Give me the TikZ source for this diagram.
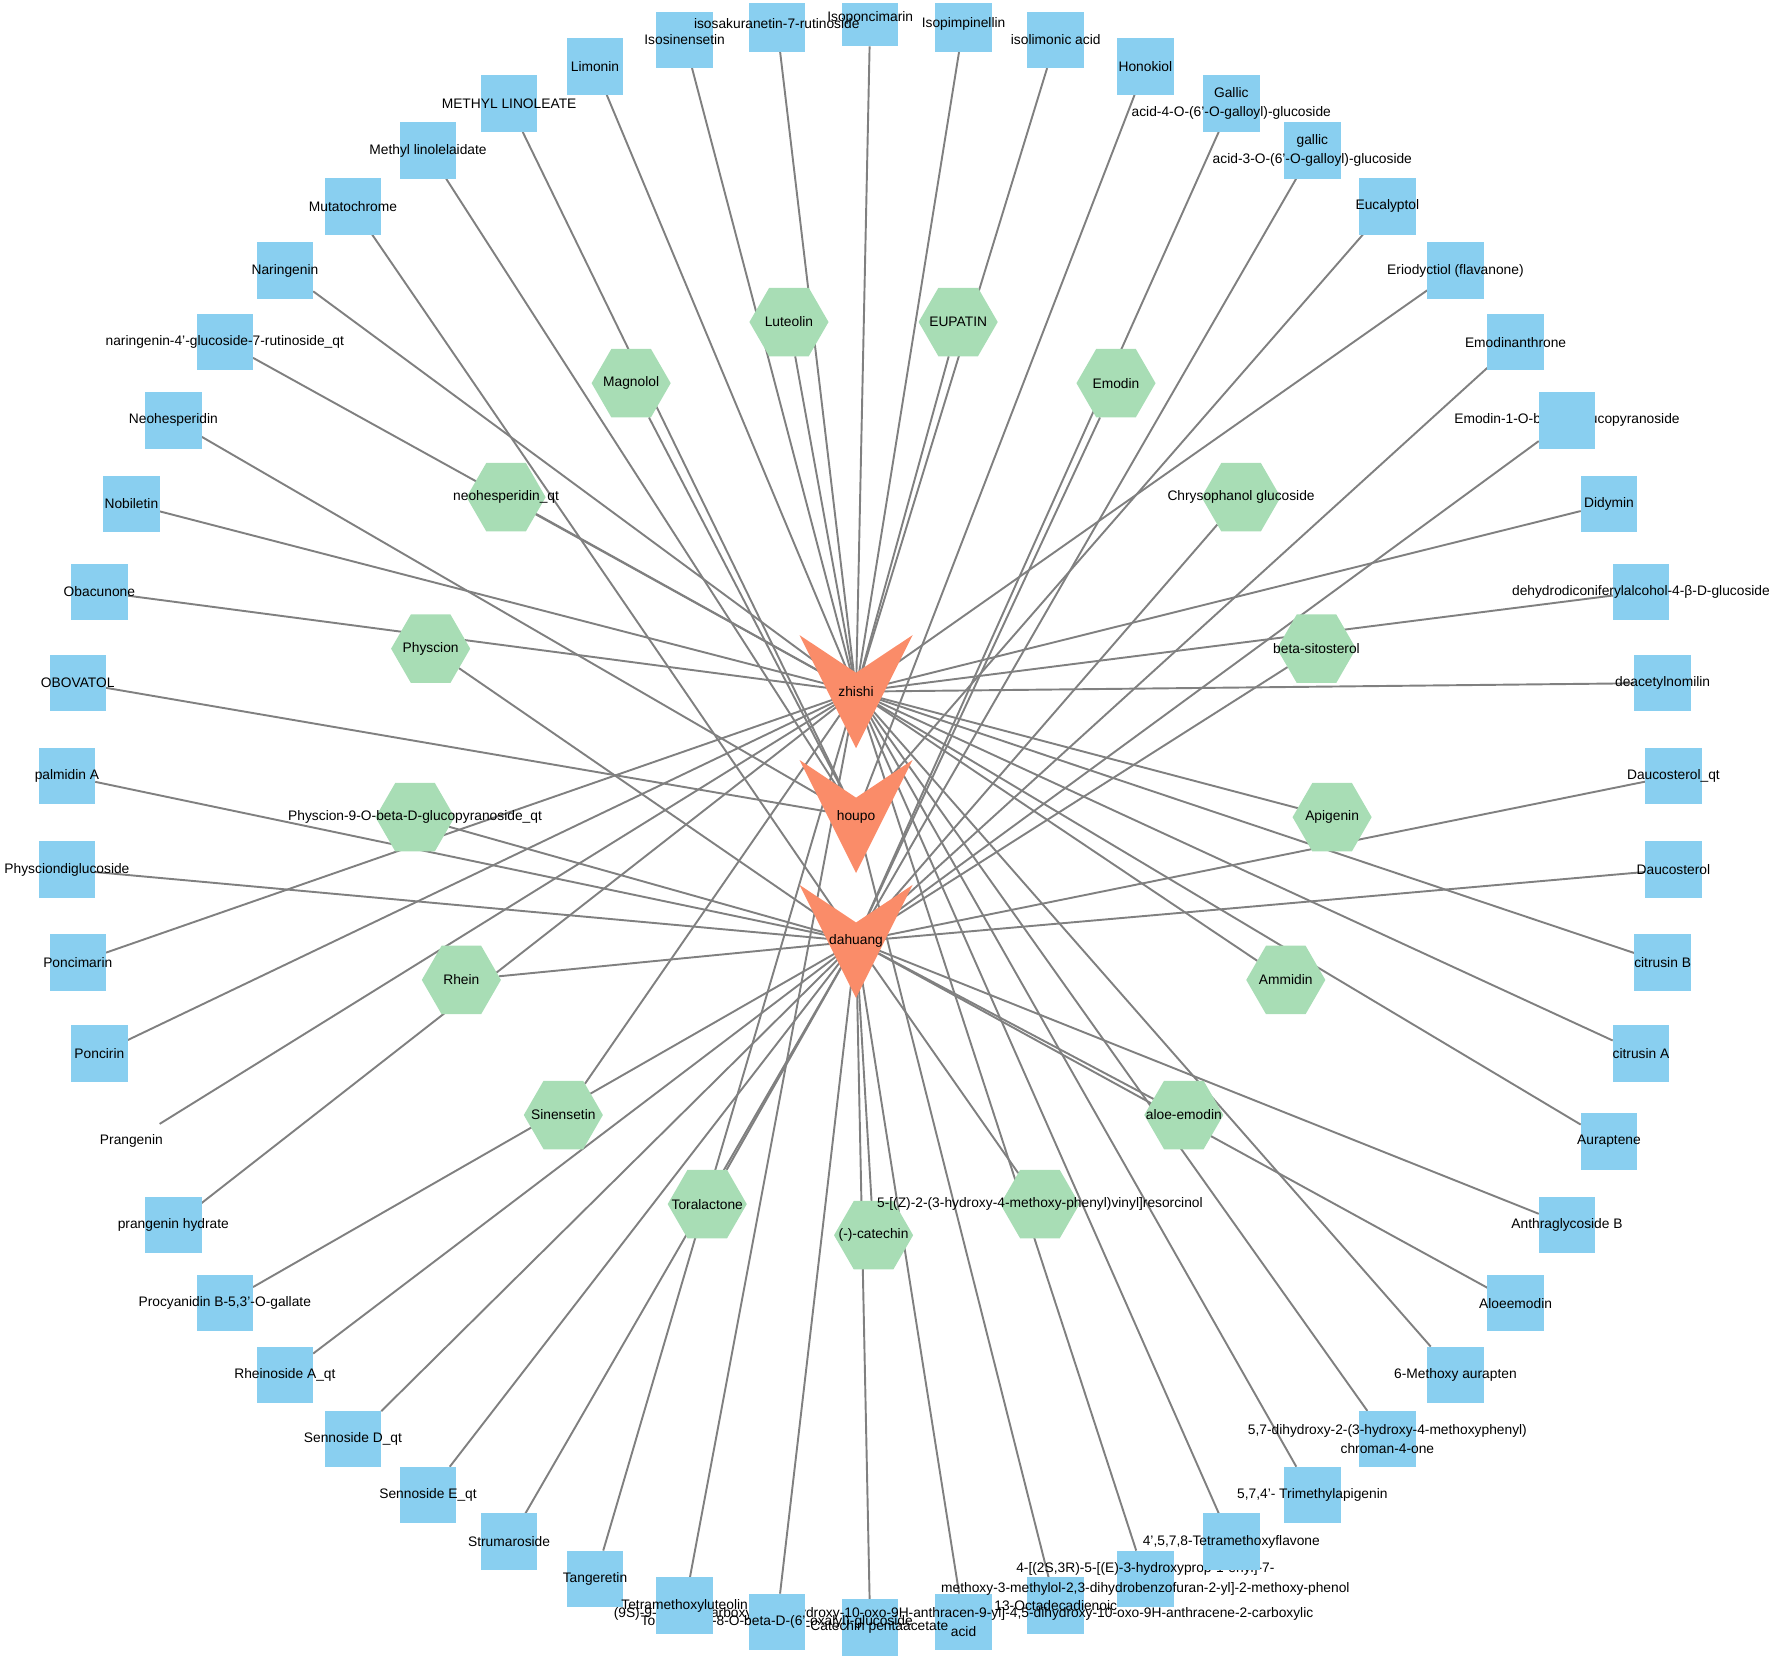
\documentclass[tikz,border=0pt]{standalone}
\usepackage{fontspec}
\setmainfont{Liberation Sans}
\usetikzlibrary{calc,shapes.geometric}
\pgfdeclarelayer{edgelayer}
\pgfsetlayers{edgelayer,main}
\definecolor{sqblue}{RGB}{137,207,240}
\definecolor{hexgreen}{RGB}{168,221,181}
\definecolor{herborange}{RGB}{250,140,105}
\definecolor{edgegray}{RGB}{128,128,128}
\begin{document}
\begin{tikzpicture}[x=1pt,y=1pt,font=\fontsize{12.2}{17}\selectfont,
  sq/.style={rectangle,fill=sqblue,minimum width=50pt,minimum height=50pt,inner sep=0pt,outer sep=0pt},
  sqghost/.style={rectangle,minimum width=50pt,minimum height=50pt,inner sep=0pt,outer sep=0pt},
  hexa/.style={regular polygon,regular polygon sides=6,minimum size=70pt,fill=hexgreen,inner sep=0pt,outer sep=0pt},
  lab/.style={inner sep=0pt,align=center,text=black},
  edge/.style={draw=edgegray,line width=1.7pt},
  herb/.style={fill=herborange}]
\useasboundingbox (0,0) rectangle (1568,-1465);
\coordinate (oc) at (770,-728);
\coordinate (ic) at (773,-685.5);
\coordinate (zhishi) at (757.5,-612);
\coordinate (houpo) at (757.5,-722.5);
\coordinate (dahuang) at (757.5,-833);

% inner hexagons
\node[hexa] (h0) at ($(ic)+(-90:407.5)$) {};
\node[hexa] (h1) at ($(ic)+(-68.824:407.5)$) {};
\node[hexa] (h2) at ($(ic)+(-47.647:407.5)$) {};
\node[hexa] (h3) at ($(ic)+(-26.471:407.5)$) {};
\node[hexa] (h4) at ($(ic)+(-5.294:407.5)$) {};
\node[hexa] (h5) at ($(ic)+(15.882:407.5)$) {};
\node[hexa] (h6) at ($(ic)+(37.059:407.5)$) {};
\node[hexa] (h7) at ($(ic)+(58.235:407.5)$) {};
\node[hexa] (h8) at ($(ic)+(79.412:407.5)$) {};
\node[hexa] (h9) at ($(ic)+(100.588:407.5)$) {};
\node[hexa] (h10) at ($(ic)+(121.765:407.5)$) {};
\node[hexa] (h11) at ($(ic)+(142.941:407.5)$) {};
\node[hexa] (h12) at ($(ic)+(164.118:407.5)$) {};
\node[hexa] (h13) at ($(ic)+(185.294:407.5)$) {};
\node[hexa] (h14) at ($(ic)+(206.471:407.5)$) {};
\node[hexa] (h15) at ($(ic)+(227.647:407.5)$) {};
\node[hexa] (h16) at ($(ic)+(248.824:407.5)$) {};
\node[lab] (hl0) at (h0) {(-)-catechin};
\node[lab] (hl1) at (h1) {5-[(Z)-2-(3-hydroxy-4-methoxy-phenyl)vinyl]resorcinol};
\node[lab] (hl2) at (h2) {aloe-emodin};
\node[lab] (hl3) at (h3) {Ammidin};
\node[lab] (hl4) at (h4) {Apigenin};
\node[lab] (hl5) at (h5) {beta-sitosterol};
\node[lab] (hl6) at (h6) {Chrysophanol glucoside};
\node[lab] (hl7) at (h7) {Emodin};
\node[lab] (hl8) at (h8) {EUPATIN};
\node[lab] (hl9) at (h9) {Luteolin};
\node[lab] (hl10) at (h10) {Magnolol};
\node[lab] (hl11) at (h11) {neohesperidin\_qt};
\node[lab] (hl12) at (h12) {Physcion};
\node[lab] (hl13) at (h13) {Physcion-9-O-beta-D-glucopyranoside\_qt};
\node[lab] (hl14) at (h14) {Rhein};
\node[lab] (hl15) at (h15) {Sinensetin};
\node[lab] (hl16) at (h16) {Toralactone};

% herbs
\fill[herb,shift={(zhishi)}] (-50,50) -- (0,16.7) -- (50,50) -- (0,-50) -- cycle;
\fill[herb,shift={(houpo)}] (-50,50) -- (0,16.7) -- (50,50) -- (0,-50) -- cycle;
\fill[herb,shift={(dahuang)}] (-50,50) -- (0,16.7) -- (50,50) -- (0,-50) -- cycle;
\node[lab] (zhishiL) at (zhishi) {zhishi};
\node[lab] (houpoL) at (houpo) {houpo};
\node[lab] (dahuangL) at (dahuang) {dahuang};

% outer squares
\node[sq] (o1) at ($(oc)+(-90:712)$) {};
\node[sq] (o2) at ($(oc)+(-83.333:712)$) {};
\node[sq] (o3) at ($(oc)+(-76.667:712)$) {};
\node[sq] (o4) at ($(oc)+(-70:712)$) {};
\node[sqghost] (o5) at ($(oc)+(-63.333:712)$) {};
\node[sq] (o6) at ($(oc)+(-56.667:712)$) {};
\node[sq] (o7) at ($(oc)+(-50:712)$) {};
\node[sq] (o8) at ($(oc)+(-43.333:712)$) {};
\node[sq] (o9) at ($(oc)+(-36.667:712)$) {};
\node[sq] (o10) at ($(oc)+(-30:712)$) {};
\node[sq] (o11) at ($(oc)+(-23.333:712)$) {};
\node[sq] (o12) at ($(oc)+(-16.667:712)$) {};
\node[sq] (o13) at ($(oc)+(-10:712)$) {};
\node[sq] (o14) at ($(oc)+(-3.333:712)$) {};
\node[sq] (o15) at ($(oc)+(3.333:712)$) {};
\node[sq] (o16) at ($(oc)+(10:712)$) {};
\node[sq] (o17) at ($(oc)+(16.667:712)$) {};
\node[sq] (o18) at ($(oc)+(23.333:712)$) {};
\node[sqghost] (o19) at ($(oc)+(30:712)$) {};
\node[sq] (o20) at ($(oc)+(36.667:712)$) {};
\node[sq] (o21) at ($(oc)+(43.333:712)$) {};
\node[sq] (o22) at ($(oc)+(50:712)$) {};
\node[sq] (o23) at ($(oc)+(56.667:712)$) {};
\node[sq] (o24) at ($(oc)+(63.333:712)$) {};
\node[sq] (o25) at ($(oc)+(70:712)$) {};
\node[sq] (o26) at ($(oc)+(76.667:712)$) {};
\node[sq] (o27) at ($(oc)+(83.333:712)$) {};
\node[sq] (o28) at ($(oc)+(90:712)$) {};
\node[sq] (o29) at ($(oc)+(96.667:712)$) {};
\node[sq] (o30) at ($(oc)+(103.333:712)$) {};
\node[sq] (o31) at ($(oc)+(110:712)$) {};
\node[sq] (o32) at ($(oc)+(116.667:712)$) {};
\node[sq] (o33) at ($(oc)+(123.333:712)$) {};
\node[sq] (o34) at ($(oc)+(130:712)$) {};
\node[sq] (o35) at ($(oc)+(136.667:712)$) {};
\node[sq] (o36) at ($(oc)+(143.333:712)$) {};
\node[sq] (o37) at ($(oc)+(150:712)$) {};
\node[sq] (o38) at ($(oc)+(156.667:712)$) {};
\node[sq] (o39) at ($(oc)+(163.333:712)$) {};
\node[sq] (o40) at ($(oc)+(170:712)$) {};
\node[sq] (o41) at ($(oc)+(176.667:712)$) {};
\node[sq] (o42) at ($(oc)+(183.333:712)$) {};
\node[sq] (o43) at ($(oc)+(190:712)$) {};
\node[sq] (o44) at ($(oc)+(196.667:712)$) {};
\node[sqghost] (o45) at ($(oc)+(203.333:712)$) {};
\node[sq] (o46) at ($(oc)+(210:712)$) {};
\node[sq] (o47) at ($(oc)+(216.667:712)$) {};
\node[sq] (o48) at ($(oc)+(223.333:712)$) {};
\node[sq] (o49) at ($(oc)+(230:712)$) {};
\node[sq] (o50) at ($(oc)+(236.667:712)$) {};
\node[sq] (o51) at ($(oc)+(243.333:712)$) {};
\node[sq] (o52) at ($(oc)+(250:712)$) {};
\node[sqghost] (o53) at ($(oc)+(256.667:712)$) {};
\node[sqghost] (o54) at ($(oc)+(263.333:712)$) {};

% outer labels
\node[lab] (t1) at (o1) {(-)-Catechin pentaacetate};
\node[lab] (t2) at (o2) {(9S)-9-[(9R)-2-carboxy-4,5-dihydroxy-10-oxo-9H-anthracen-9-yl]-4,5-dihydroxy-10-oxo-9H-anthracene-2-carboxylic\\acid};
\node[lab] (t3) at (o3) {13-Octadecadienoic};
\node[lab] (t4) at (o4) {4-[(2S,3R)-5-[(E)-3-hydroxyprop-1-enyl]-7-\\methoxy-3-methylol-2,3-dihydrobenzofuran-2-yl]-2-methoxy-phenol};
\node[lab] (t6) at (o6) {5,7,4'- Trimethylapigenin};
\node[lab] (t7) at (o7) {5,7-dihydroxy-2-(3-hydroxy-4-methoxyphenyl)\\chroman-4-one};
\node[lab] (t8) at (o8) {6-Methoxy aurapten};
\node[lab] (t9) at (o9) {Aloeemodin};
\node[lab] (t10) at (o10) {Anthraglycoside B};
\node[lab] (t11) at (o11) {Auraptene};
\node[lab] (t12) at (o12) {citrusin A};
\node[lab] (t13) at (o13) {citrusin B};
\node[lab] (t14) at (o14) {Daucosterol};
\node[lab] (t15) at (o15) {Daucosterol\_qt};
\node[lab] (t16) at (o16) {deacetylnomilin};
\node[lab] (t17) at (o17) {dehydrodiconiferylalcohol-4-β-D-glucoside};
\node[lab] (t18) at (o18) {Didymin};
\node[lab] (t19) at (o19) {Emodin-1-O-beta-D-glucopyranoside};
\node[sq] (o19box) at (o19) {};
\node[lab] (t20) at (o20) {Emodinanthrone};
\node[lab] (t21) at (o21) {Eriodyctiol (flavanone)};
\node[lab] (t22) at (o22) {Eucalyptol};
\node[lab] (t23) at (o23) {gallic\\acid-3-O-(6'-O-galloyl)-glucoside};
\node[lab] (t24) at (o24) {Gallic\\acid-4-O-(6'-O-galloyl)-glucoside};
\node[lab] (t25) at (o25) {Honokiol};
\node[lab] (t26) at (o26) {isolimonic acid};
\node[lab] (t27) at (o27) {Isopimpinellin};
\node[lab] (t28) at (o28) {Isoponcimarin};
\node[lab] (t29) at (o29) {isosakuranetin-7-rutinoside};
\node[lab] (t30) at (o30) {Isosinensetin};
\node[lab] (t31) at (o31) {Limonin};
\node[lab] (t32) at (o32) {METHYL LINOLEATE};
\node[lab] (t33) at (o33) {Methyl linolelaidate};
\node[lab] (t34) at (o34) {Mutatochrome};
\node[lab] (t35) at (o35) {Naringenin};
\node[lab] (t36) at (o36) {naringenin-4'-glucoside-7-rutinoside\_qt};
\node[lab] (t37) at (o37) {Neohesperidin};
\node[lab] (t38) at (o38) {Nobiletin};
\node[lab] (t39) at (o39) {Obacunone};
\node[lab] (t40) at (o40) {OBOVATOL};
\node[lab] (t41) at (o41) {palmidin A};
\node[lab] (t42) at (o42) {Physciondiglucoside};
\node[lab] (t43) at (o43) {Poncimarin};
\node[lab] (t44) at (o44) {Poncirin};
\node[lab] (t45) at (o45) {Prangenin};
\node[lab] (t46) at (o46) {prangenin hydrate};
\node[lab] (t47) at (o47) {Procyanidin B-5,3'-O-gallate};
\node[lab] (t48) at (o48) {Rheinoside A\_qt};
\node[lab] (t49) at (o49) {Sennoside D\_qt};
\node[lab] (t50) at (o50) {Sennoside E\_qt};
\node[lab] (t51) at (o51) {Strumaroside};
\node[lab] (t52) at (o52) {Tangeretin};
\node[sq] (o5box) at (o5) {};
\node[lab] (t5) at (o5) {4',5,7,8-Tetramethoxyflavone};
\node[sq] (o54box) at (o54) {};
\node[lab] (t54) at (o54) {Toralactone-8-O-beta-D-(6'-oxalyl)-glucoside};
\node[sq] (o53box) at (o53) {};
\node[lab] (t53) at (o53) {Tetramethoxyluteolin};

% edges
\begin{pgfonlayer}{edgelayer}
\foreach \n in {4,5,6,7,8,11,12,13,16,17,18,21,26,27,28,29,30,31,35,36,38,39,43,44,45,46,52,53}
  \draw[edge] (o\n) -- (zhishi);
\foreach \n in {3,22,25,32,33,37,40}
  \draw[edge] (o\n) -- (houpo);
\foreach \n in {1,2,9,10,14,15,19,20,23,24,34,41,42,47,48,49,50,51,54}
  \draw[edge] (o\n) -- (dahuang);
\foreach \n in {3,4,8,9,11,15}
  \draw[edge] (h\n) -- (zhishi);
\foreach \n in {10}
  \draw[edge] (h\n) -- (houpo);
\foreach \n in {0,1,2,5,6,7,12,13,14,16}
  \draw[edge] (h\n) -- (dahuang);
\end{pgfonlayer}

\fill[white] (0,0) rectangle (1568,-2.4);
\end{tikzpicture}
\end{document}
